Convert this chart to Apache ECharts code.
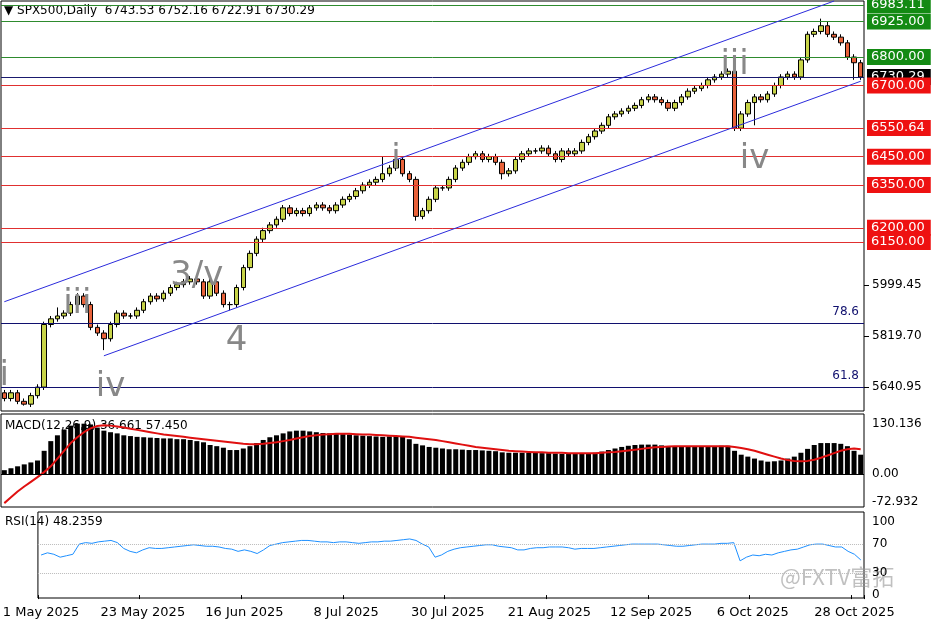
<!DOCTYPE html>
<html><head><meta charset="utf-8">
<script src="https://cdn.jsdelivr.net/npm/echarts@6/dist/echarts.min.js"></script>
<style>html,body{margin:0;padding:0;background:#fff}#c{width:936px;height:624px}</style>
</head><body><div id="c"></div>
<script>
const dateLabels = ['1 May 2025','23 May 2025','16 Jun 2025','8 Jul 2025','30 Jul 2025','21 Aug 2025','12 Sep 2025','6 Oct 2025','28 Oct 2025'];
const closes = [5600,5620,5590,5580,5610,5640,
5860,5880,5890,5900,5930,5960,5930,5850,5830,5810,
5860,5900,5890,5890,5910,5940,5960,5950,5970,5990,
6000,6010,6020,6010,5960,6010,5970,5930,5930,5990,
6060,6110,6160,6190,6210,6230,6270,6250,6260,6250,
6270,6280,6270,6260,6280,6300,6310,6330,6350,6360,6370,6390,6410,6440,6390,6370,6240,
6260,6300,6340,6340,6370,6410,6430,6450,6460,6440,6450,6430,6390,
6400,6440,6460,6470,6470,6480,6460,6440,6470,6460,6470,6500,6520,6540,
6560,6590,6600,6610,6620,6630,6650,6660,6650,6640,6620,6640,6660,6680,6690,6700,
6720,6730,6740,6750,6550,6600,6640,6660,6650,6670,
6700,6730,6740,6730,6790,6880,6890,6910,6880,6870,6850,6800,6780,6730];
const firstOpen = 5620;
const specialLows = {3:5575,15:5770,34:5910,62:6225,75:6370,110:6540,113:6560,128:6720};
const specialHighs = {8:5920,57:6450,123:6935,124:6925};
const macd = [10,15,20,25,30,35,
60,85,100,115,125,130,130,128,120,112,
108,105,100,98,96,95,94,93,92,92,
90,90,88,85,82,75,72,68,62,62,
66,72,80,88,95,100,105,110,112,112,
110,108,106,105,104,103,102,100,99,98,97,96,97,98,96,90,78,
74,70,68,66,64,64,63,62,62,61,60,59,56,
55,55,55,55,55,54,54,53,52,52,52,52,53,55,
58,62,66,70,73,75,76,76,76,74,72,72,72,72,72,72,
72,72,73,73,60,50,45,40,35,32,
33,35,40,45,55,65,75,80,80,80,78,72,60,50];
const signal = [-75,-60,-45,-32,-20,-8,5,20,40,60,80,95,108,118,124,126,
125,123,120,117,114,111,108,105,102,100,98,96,94,92,90,
88,86,84,82,80,78,77,77,78,80,82,85,88,92,95,
98,100,102,103,104,104,104,103,102,102,101,100,99,98,97,96,94,
92,90,88,85,82,79,76,73,70,68,66,64,62,
60,59,58,57,56,56,55,55,55,54,54,54,54,54,
55,56,57,59,61,63,65,67,69,70,71,72,72,72,72,72,
72,72,72,72,70,67,64,60,55,50,
45,40,36,34,33,34,37,42,48,54,60,64,66,64];
const rsi = [55,58,56,52,54,56,
70,72,71,73,74,75,72,64,60,58,
62,65,64,64,65,66,67,68,69,68,67,67,66,64,63,
60,62,60,57,62,
68,70,72,73,74,75,75,74,73,73,
72,73,73,72,71,72,73,73,74,74,75,76,77,75,70,
66,52,55,60,63,
65,66,67,68,69,69,67,66,65,62,
62,64,65,65,66,66,66,65,63,64,64,64,65,66,
67,68,69,70,70,70,70,70,69,68,67,67,68,69,70,70,
70,71,71,72,47,52,55,54,56,55,
58,60,62,63,66,69,70,70,68,66,66,60,56,48.2];
const greenLevels = [6983.11,6925.00,6800.00];
const redLevels = [6700.00,6550.64,6450.00,6350.00,6200.00,6150.00];
const currentPrice = 6730.29;
const fibLevels = [[5866,'78.6'],[5641,'61.8']];
const axisPrices = [5640.95,5819.70,5999.45];
const waves = [[0,5680,'i'],[11,5930,'iii'],[16,5640,'iv'],[29,6030,'3/v'],[35,5800,'4'],[59,6440,'i'],[110,6770,'iii'],[113,6440,'iv']];

const cats = closes.map((_, i) => i);
const ohlc = closes.map((c, i) => {
  const o = i === 0 ? firstOpen : closes[i-1];
  const hi = specialHighs[i] !== undefined ? specialHighs[i] : Math.max(o, c) + 10;
  const lo = specialLows[i] !== undefined ? specialLows[i] : Math.min(o, c) - 10;
  return [o, c, lo, hi];
});
const F = 'DejaVu Sans';
function hl(v, color, bg, txt, tc) {
  return {yAxis: v, lineStyle: {color: color, type: 'solid', width: 1},
    label: {show: true, position: 'end', formatter: txt, color: tc || '#fff', backgroundColor: bg,
      padding: [2, 6, 1, 4], fontFamily: F, fontSize: 13, distance: 3}};
}
const lines = [];
lines.push(hl(currentPrice, '#1a1a6e', '#000', currentPrice.toFixed(2)));
greenLevels.forEach(v => lines.push(hl(v, '#2e8b2e', '#138a13', v.toFixed(2))));
redLevels.forEach(v => lines.push(hl(v, '#e03030', '#ee1111', v.toFixed(2))));
fibLevels.forEach(f => lines.push({yAxis: f[0], lineStyle: {color: '#10106e', type: 'solid', width: 1},
  label: {show: true, position: 'insideEndTop', formatter: f[1], color: '#10106e', fontFamily: F, fontSize: 12}}));
lines.push({yAxis: 6200, lineStyle: {opacity: 0}, label: {show: true, position: 'insideEndTop', formatter: '100.0', color: '#10106e', fontFamily: F, fontSize: 12}});
const chanStyle = {color: '#2b2bdc', width: 1, type: 'solid'};
lines.push([{coord: [0, 5940], lineStyle: chanStyle, label: {show: false}}, {coord: [125, 6997]}]);
lines.push([{coord: [15, 5750], lineStyle: chanStyle, label: {show: false}}, {coord: [129, 6715]}]);

const chart = echarts.init(document.getElementById('c'));
chart.setOption({
  animation: false,
  backgroundColor: '#fff',
  textStyle: {fontFamily: F},
  grid: [
    {left: 1, right: 72, top: 1, height: 410, show: true, borderColor: '#000', borderWidth: 1},
    {left: 1, right: 72, top: 414, height: 93, show: true, borderColor: '#000', borderWidth: 1},
    {left: 1, right: 72, top: 512, height: 86, show: true, borderColor: '#000', borderWidth: 1}
  ],
  xAxis: [0, 1, 2].map(g => ({type: 'category', gridIndex: g, data: cats, boundaryGap: true,
    axisLine: {show: false}, axisTick: {show: g === 2, interval: 15, length: 4, lineStyle: {color: '#000'}},
    axisLabel: {show: g === 2, interval: 15, color: '#000', fontSize: 13, fontFamily: F, margin: 8,
      formatter: (v, i) => dateLabels[Math.round(i / 16)] || ''},
    splitLine: {show: false}})),
  yAxis: [
    {gridIndex: 0, position: 'right', min: 5556, max: 6997, axisLine: {show: false}, splitLine: {show: false},
      axisTick: {show: true, customValues: axisPrices, lineStyle: {color: '#000'}},
      axisLabel: {customValues: axisPrices, formatter: v => v.toFixed(2), color: '#000', fontSize: 12, fontFamily: F}},
    {gridIndex: 1, position: 'right', min: -85, max: 155, axisLine: {show: false}, splitLine: {show: false},
      axisTick: {show: false},
      axisLabel: {customValues: [-72.932, 0, 130.136], formatter: v => v === 0 ? '0.00' : v.toFixed(3), color: '#000', fontSize: 12, fontFamily: F}},
    {gridIndex: 2, position: 'right', min: -4, max: 114, axisLine: {show: false}, splitLine: {show: false},
      axisTick: {show: false},
      axisLabel: {customValues: [0, 30, 70, 100], color: '#000', fontSize: 12, fontFamily: F}}
  ],
  series: [
    {type: 'candlestick', xAxisIndex: 0, yAxisIndex: 0, data: ohlc, barWidth: 5,
      itemStyle: {color: '#c8d448', color0: '#e8623a', borderColor: '#000', borderColor0: '#000', borderWidth: 1},
      markLine: {symbol: 'none', silent: true, animation: false, data: lines},
      markPoint: {symbol: 'rect', symbolSize: 1, itemStyle: {color: 'rgba(0,0,0,0)'},
        label: {show: true, position: 'inside'},
        data: waves.map(w => ({coord: [w[0], w[1]], label: {show: true, position: 'inside', formatter: w[2], color: '#888', fontSize: 34, fontFamily: F}}))}},
    {type: 'bar', xAxisIndex: 1, yAxisIndex: 1, data: macd, barWidth: 5, itemStyle: {color: '#000'},
      markLine: {symbol: 'none', silent: true, data: [{yAxis: 0, lineStyle: {color: '#000', type: 'solid', width: 1}, label: {show: false}}]}},
    {type: 'line', xAxisIndex: 1, yAxisIndex: 1, data: signal, symbol: 'none', lineStyle: {color: '#e01010', width: 2}},
    {type: 'line', xAxisIndex: 2, yAxisIndex: 2, data: rsi, symbol: 'none', lineStyle: {color: '#1e90ff', width: 1},
      markLine: {symbol: 'none', silent: true, data: [30, 70].map(v => ({yAxis: v, lineStyle: {color: '#bbb', type: 'dotted', width: 1}, label: {show: false}}))}}
  ],
  graphic: [
    {type: 'text', left: 4, top: 5, style: {text: '▼ SPX500,Daily  6743.53 6752.16 6722.91 6730.29', fill: '#000', font: '12px DejaVu Sans'}},
    {type: 'text', left: 5, top: 420, style: {text: 'MACD(12,26,9) 36.661 57.450', fill: '#000', font: '12px DejaVu Sans'}},
    {type: 'text', left: 5, top: 516, style: {text: 'RSI(14) 48.2359', fill: '#000', font: '12px DejaVu Sans'}},
    {type: 'text', left: 780, top: 566, style: {text: '@FXTV富拓', fill: 'rgba(150,150,150,0.6)', font: '22px "Noto Sans CJK SC"'}}
  ]
});
</script></body></html>
